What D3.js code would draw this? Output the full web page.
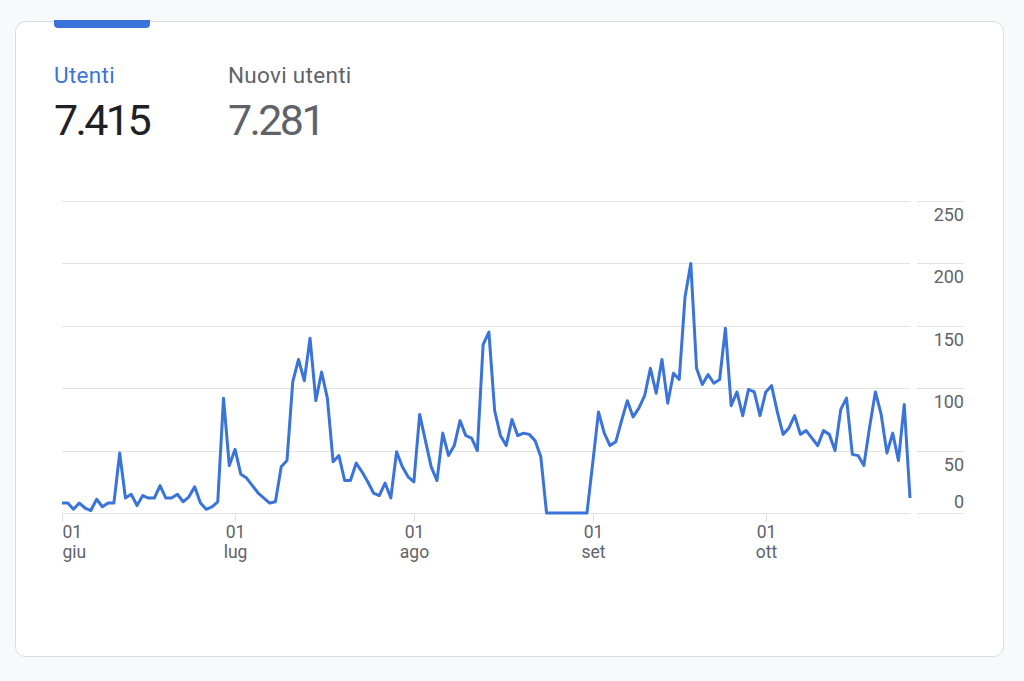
<!DOCTYPE html>
<html>
<head>
<meta charset="utf-8">
<script src="https://cdn.jsdelivr.net/npm/d3@7"></script>
<style>
  html, body { margin: 0; padding: 0; background: #f8f9fa; }
  svg { display: block; font-family: Roboto, "Noto Sans", sans-serif; }
</style>
</head>
<body>
<svg class="ga" width="1024" height="681"></svg>
<script>
// utenti giornalieri, 1 giu - 26 ott
var giu = [8, 8, 3, 8, 4, 2, 11, 5, 8, 8, 48, 12, 15, 6, 14, 12, 12, 22, 12, 12, 15, 9, 13, 21, 8, 3, 5, 9, 92, 38]
var lug = [51, 31, 28, 22, 16, 12, 8, 9, 37, 42, 105, 123, 106, 140, 90, 113, 92, 41, 46, 26, 26, 40, 33, 25, 16, 14, 24, 12, 49, 37, 29]
var ago = [25, 79, 58, 37, 26, 64, 46, 54, 74, 62, 60, 50, 135, 145, 82, 62, 54, 75, 62, 64, 63, 58, 45, 0, 0, 0, 0, 0, 0, 0, 0]
var set = [40, 81, 64, 54, 57, 74, 90, 77, 84, 94, 116, 96, 123, 88, 112, 107, 173, 200, 116, 103, 111, 104, 107, 148, 86, 97, 78, 99, 97, 78]
var ott = [97, 102, 81, 63, 68, 78, 63, 66, 60, 54, 66, 63, 50, 83, 92, 47, 46, 38, 69, 97, 79, 48, 64, 42, 87, 12]

var monthStarts = ['2023-06-01', '2023-07-01', '2023-08-01', '2023-09-01', '2023-10-01']
var dayLabels = ['01', '01', '01', '01', '01']
var monthLabels = ['giu', 'lug', 'ago', 'set', 'ott']
var yTicks = [0, 50, 100, 150, 200, 250]

var metricNames = ['Utenti', 'Nuovi utenti']
var metricTotals = ['7.415', '7.281']

var start = new Date(Date.UTC(2023, 5, 1))
var values = giu.concat(lug, ago, set, ott)
var data = values.map((v, i) => ({ date: d3.utcDay.offset(start, i), value: v }))

var svg = d3.select('svg.ga')

// card
svg.append('rect')
  .attr('x', 15.5).attr('y', 21.5)
  .attr('width', 988).attr('height', 635)
  .attr('rx', 10)
  .attr('fill', '#fff')
  .attr('stroke', '#dadce0')

// active tab marker
svg.append('path')
  .attr('d', 'M54,20 H150 V24 A4,4 0 0 1 146,28 H58 A4,4 0 0 1 54,24 Z')
  .attr('fill', '#3a74da')

var header = svg.selectAll('g.metric')
  .data(metricNames)
  .enter()
  .append('g')
    .attr('class', 'metric')
    .attr('transform', (d, i) => 'translate(' + (i ? 228 : 54) + ',0)')

header.append('text')
  .attr('y', 83)
  .attr('font-size', 22.5)
  .attr('letter-spacing', 0.3)
  .attr('fill', (d, i) => i ? '#5f6368' : '#3a74da')
  .text((d) => d)

header.append('text')
  .attr('y', 135)
  .attr('font-size', 43)
  .attr('letter-spacing', -2.6)
  .attr('fill', (d, i) => i ? '#5f6368' : '#202124')
  .text((d, i) => metricTotals[i])

var x = d3.scaleUtc()
  .domain([start, data[data.length - 1].date])
  .range([62, 910])

var y = d3.scaleLinear()
  .domain([0, 250])
  .range([513, 201])

// grid, with a gap before the labels
var grid = svg.append('g')
grid.selectAll('line.left')
  .data(yTicks)
  .enter()
  .append('line')
    .attr('x1', 62).attr('x2', 910)
    .attr('y1', (d) => Math.round(y(d)) + 0.5)
    .attr('y2', (d) => Math.round(y(d)) + 0.5)
    .attr('stroke', '#e3e3e3')
grid.selectAll('line.right')
  .data(yTicks)
  .enter()
  .append('line')
    .attr('x1', 917).attr('x2', 964)
    .attr('y1', (d) => Math.round(y(d)) + 0.5)
    .attr('y2', (d) => Math.round(y(d)) + 0.5)
    .attr('stroke', '#e3e3e3')

svg.append('g').selectAll('text')
  .data(yTicks)
  .enter()
  .append('text')
    .attr('x', 964)
    .attr('y', (d) => d === 0 ? y(d) - 5 : y(d) + 20)
    .attr('text-anchor', 'end')
    .attr('font-size', 18)
    .attr('fill', '#5f6368')
    .text((d) => d)

// month ticks
var months = monthStarts.map((s) => new Date(s + 'T00:00:00Z'))
var xAxis = svg.append('g').selectAll('g')
  .data(months)
  .enter()
  .append('g')
    .attr('transform', (d) => 'translate(' + (Math.round(x(d)) + 0.5) + ',0)')

xAxis.append('line')
  .attr('y1', 513).attr('y2', 522)
  .attr('stroke', '#e3e3e3')

xAxis.append('text')
  .attr('y', 538)
  .attr('text-anchor', (d, i) => i ? 'middle' : 'start')
  .attr('font-size', 17.5)
  .attr('fill', '#5f6368')
  .text((d, i) => dayLabels[i])

xAxis.append('text')
  .attr('y', 558)
  .attr('text-anchor', (d, i) => i ? 'middle' : 'start')
  .attr('font-size', 17.5)
  .attr('fill', '#5f6368')
  .text((d, i) => monthLabels[i])

var line = d3.line()
  .x((d) => x(d.date))
  .y((d) => y(d.value))

svg.append('path')
  .datum(data)
  .attr('d', line)
  .attr('fill', 'none')
  .attr('stroke', '#3a74da')
  .attr('stroke-width', 3)
  .attr('stroke-linejoin', 'round')
</script>
</body>
</html>
